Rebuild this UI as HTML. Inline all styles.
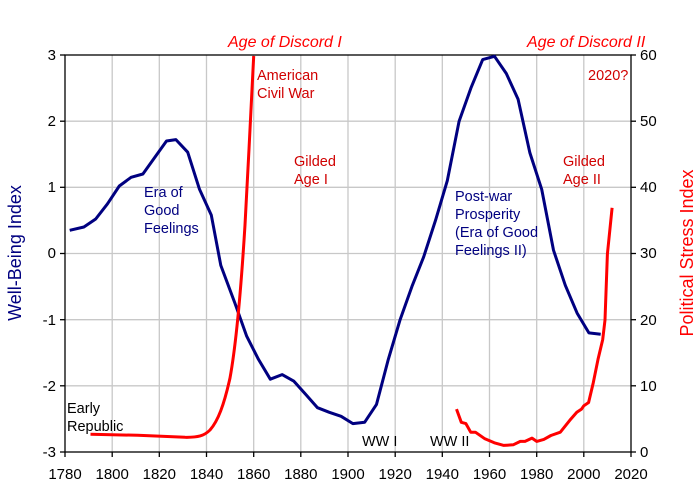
<!DOCTYPE html>
<html><head><style>body{margin:0;background:#fff}svg{display:block}text{font-family:"Liberation Sans",Arial,sans-serif}</style></head><body>
<svg width="700" height="499" viewBox="0 0 700 499" xmlns="http://www.w3.org/2000/svg">
<g stroke="#c8c8c8" stroke-width="1.3">
<line x1="112.2" y1="55" x2="112.2" y2="452"/><line x1="159.3" y1="55" x2="159.3" y2="452"/><line x1="206.5" y1="55" x2="206.5" y2="452"/><line x1="253.7" y1="55" x2="253.7" y2="452"/><line x1="300.8" y1="55" x2="300.8" y2="452"/><line x1="348" y1="55" x2="348" y2="452"/><line x1="395.2" y1="55" x2="395.2" y2="452"/><line x1="442.3" y1="55" x2="442.3" y2="452"/><line x1="489.5" y1="55" x2="489.5" y2="452"/><line x1="536.7" y1="55" x2="536.7" y2="452"/><line x1="583.8" y1="55" x2="583.8" y2="452"/>
<line x1="65" y1="121.2" x2="631" y2="121.2"/><line x1="65" y1="187.3" x2="631" y2="187.3"/><line x1="65" y1="253.5" x2="631" y2="253.5"/><line x1="65" y1="319.7" x2="631" y2="319.7"/><line x1="65" y1="385.8" x2="631" y2="385.8"/>
</g>
<rect x="65" y="55" width="566" height="397" fill="none" stroke="#000" stroke-width="1.3"/>
<g stroke="#000" stroke-width="1.3">
<line x1="60" y1="55" x2="65" y2="55"/><line x1="60" y1="121.2" x2="65" y2="121.2"/><line x1="60" y1="187.3" x2="65" y2="187.3"/><line x1="60" y1="253.5" x2="65" y2="253.5"/><line x1="60" y1="319.7" x2="65" y2="319.7"/><line x1="60" y1="385.8" x2="65" y2="385.8"/><line x1="60" y1="452" x2="65" y2="452"/>
<line x1="631" y1="55" x2="636" y2="55"/><line x1="631" y1="121.2" x2="636" y2="121.2"/><line x1="631" y1="187.3" x2="636" y2="187.3"/><line x1="631" y1="253.5" x2="636" y2="253.5"/><line x1="631" y1="319.7" x2="636" y2="319.7"/><line x1="631" y1="385.8" x2="636" y2="385.8"/><line x1="631" y1="452" x2="636" y2="452"/>
<line x1="65" y1="452" x2="65" y2="457"/><line x1="112.2" y1="452" x2="112.2" y2="457"/><line x1="159.3" y1="452" x2="159.3" y2="457"/><line x1="206.5" y1="452" x2="206.5" y2="457"/><line x1="253.7" y1="452" x2="253.7" y2="457"/><line x1="300.8" y1="452" x2="300.8" y2="457"/><line x1="348" y1="452" x2="348" y2="457"/><line x1="395.2" y1="452" x2="395.2" y2="457"/><line x1="442.3" y1="452" x2="442.3" y2="457"/><line x1="489.5" y1="452" x2="489.5" y2="457"/><line x1="536.7" y1="452" x2="536.7" y2="457"/><line x1="583.8" y1="452" x2="583.8" y2="457"/><line x1="631" y1="452" x2="631" y2="457"/>
</g>
<g font-size="15" fill="#000" text-anchor="end">
<text x="56" y="60">3</text><text x="56" y="126">2</text><text x="56" y="192">1</text><text x="56" y="258">0</text><text x="56" y="325">-1</text><text x="56" y="391">-2</text><text x="56" y="457">-3</text>
</g>
<g font-size="15" fill="#000" text-anchor="start">
<text x="640" y="60">60</text><text x="640" y="126">50</text><text x="640" y="192">40</text><text x="640" y="258">30</text><text x="640" y="325">20</text><text x="640" y="391">10</text><text x="640" y="457">0</text>
</g>
<g font-size="15" fill="#000" text-anchor="middle">
<text x="65" y="479">1780</text><text x="112.2" y="479">1800</text><text x="159.3" y="479">1820</text><text x="206.5" y="479">1840</text><text x="253.7" y="479">1860</text><text x="300.8" y="479">1880</text><text x="348" y="479">1900</text><text x="395.2" y="479">1920</text><text x="442.3" y="479">1940</text><text x="489.5" y="479">1960</text><text x="536.7" y="479">1980</text><text x="583.8" y="479">2000</text><text x="631" y="479">2020</text>
</g>
<text transform="translate(21,253) rotate(-90)" text-anchor="middle" font-size="18" fill="#000080">Well-Being Index</text>
<text transform="translate(693,253) rotate(-90)" text-anchor="middle" font-size="18" fill="#ff0000">Political Stress Index</text>
<polyline fill="none" stroke="#000080" stroke-width="3" stroke-linejoin="round" points="69.7,230.3 83.9,227 95.7,219 107.5,203.8 119.3,186 131.1,177.3 142.9,174 154.7,157.5 166.5,141 175.9,139.6 187.7,152.2 199.5,189.3 211.3,215.1 220.8,265.4 234.9,303.1 246.7,336.2 258.5,359.4 270.3,379.2 282.1,374.6 293.9,381.2 305.7,394.4 317.5,407.7 329.3,412.3 341.1,416.3 352.9,423.6 364.7,422.2 376.5,404.4 388.3,359.4 400.1,319.7 411.9,286.6 423.7,256.8 435.5,220.4 447.3,180.7 459.1,121.2 470.9,88.1 482.7,59.6 494.5,56.3 506.3,73.5 518.1,99.3 529.9,152.9 541.7,189.3 553.5,250.2 565.3,285.3 577.1,313.1 588.9,332.9 600.7,334.2"/>
<path fill="none" stroke="#ff0000" stroke-width="3" d="M90.5,434.2 L137.7,435.3 L185,437.3 C198,437.5 204,436 210,430 C218,421 224,405 230,378 C236,345 241,290 245,225 C248,170 251,110 253.7,56"/>
<polyline fill="none" stroke="#ff0000" stroke-width="3" stroke-linejoin="round" points="456.5,409.1 461.3,422.3 465.9,423.6 470.7,432.2 475.4,432.2 484.9,438.8 494.3,442.8 503.8,445.4 513.2,444.8 520.3,441.4 525,441.4 532,438.1 536.7,441.4 543.8,439.4 550.9,435.5 560.3,432.2 569.8,420.3 576.8,412.3 581.5,409.1 583.8,405.8 588.6,402.5 593.3,382.6 598,359.4 602.7,339.6 605,320 607.4,254 612.1,207.8"/>
<g font-size="16" font-style="italic" fill="#ff0000">
<text x="228" y="47">Age of Discord I</text>
<text x="527" y="47">Age of Discord II</text>
</g>
<g font-size="14.5" fill="#d00000">
<text x="257" y="80">American</text><text x="257" y="98">Civil War</text>
<text x="294" y="166">Gilded</text><text x="294" y="184">Age I</text>
<text x="563" y="166">Gilded</text><text x="563" y="184">Age II</text>
<text x="588" y="80">2020?</text>
</g>
<g font-size="14.5" fill="#000080">
<text x="144" y="197">Era of</text><text x="144" y="215">Good</text><text x="144" y="233">Feelings</text>
<text x="455" y="201">Post-war</text><text x="455" y="219">Prosperity</text><text x="455" y="237">(Era of Good</text><text x="455" y="255">Feelings II)</text>
</g>
<g font-size="14.5" fill="#000">
<text x="67" y="413">Early</text><text x="67" y="431">Republic</text>
<text x="362" y="446">WW I</text><text x="430" y="446">WW II</text>
</g>
</svg>
</body></html>
